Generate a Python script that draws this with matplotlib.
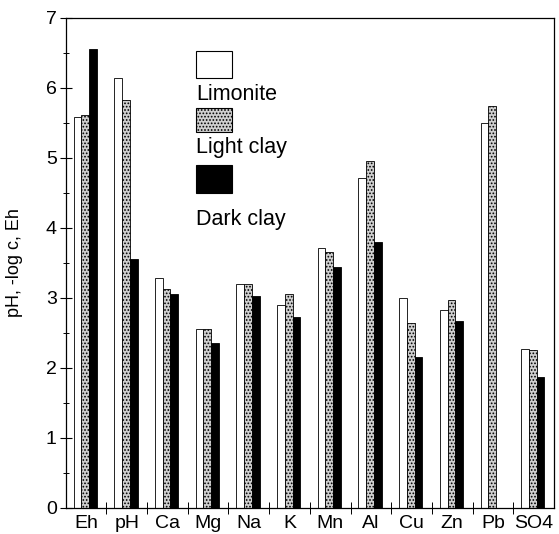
import matplotlib
matplotlib.use("Agg")
import matplotlib.pyplot as plt
from matplotlib.patches import Rectangle
import numpy as np

categories = ["Eh", "pH", "Ca", "Mg", "Na", "K", "Mn", "Al", "Cu", "Zn", "Pb", "SO4"]
limonite   = [5.58, 6.14, 3.28, 2.55, 3.20, 2.90, 3.71, 4.71, 3.00, 2.83, 5.49, 2.27]
light_clay = [5.61, 5.83, 3.13, 2.55, 3.20, 3.05, 3.65, 4.95, 2.64, 2.97, 5.74, 2.25]
dark_clay  = [6.55, 3.55, 3.05, 2.35, 3.03, 2.73, 3.44, 3.80, 2.15, 2.66, 0.00, 1.86]
series_names = ["Limonite", "Light clay", "Dark clay"]
y_ticks = [0, 1, 2, 3, 4, 5, 6, 7]

plt.rcParams["font.family"] = ["Liberation Sans", "DejaVu Sans"]
plt.rcParams["hatch.color"] = "#555555"
plt.rcParams["hatch.linewidth"] = 0.8

fig = plt.figure(figsize=(5.59, 5.34), dpi=100)
ax = fig.add_axes([0.1175, 0.0493, 0.8735, 0.9177])

n = len(categories)
x = np.arange(n)
w = 0.19
center = x + 0.48

styles = [
    dict(facecolor="white", edgecolor="black", hatch=None),
    dict(facecolor="#cfcfcf", edgecolor="black", hatch="....."),
    dict(facecolor="black", edgecolor="black", hatch=None),
]
for k, vals in enumerate([limonite, light_clay, dark_clay]):
    ax.bar(center + (k - 1) * w, vals, width=w, linewidth=0.6, **styles[k])

ax.set_xlim(0, n)
ax.set_ylim(0, 7)
ax.set_yticks(y_ticks)
ax.set_yticks(np.arange(0.5, 7, 1.0), minor=True)
ax.set_xticks(x + 0.5)
ax.set_xticklabels(categories)
ax.set_xticks(np.arange(1, n), minor=True)

ax.tick_params(axis="y", which="major", direction="inout", length=9, width=0.8,
               labelsize=14, pad=2)
ax.tick_params(axis="y", which="minor", direction="inout", length=4, width=0.7)
ax.tick_params(axis="x", which="major", length=0, labelsize=14, pad=5)
ax.tick_params(axis="x", which="minor", direction="inout", length=8, width=0.7)
for sp in ax.spines.values():
    sp.set_linewidth(0.9)

ax.set_ylabel("pH, -log c, Eh", fontsize=13)
ax.yaxis.set_label_coords(-0.087, 0.5)

# legend: swatch with its label underneath
box_bottom = [0.877, 0.767, 0.642]
box_height = [0.0547, 0.048, 0.0571]
text_base = [0.8317, 0.7236, 0.5767]
for k in range(3):
    ax.add_patch(Rectangle((0.2668, box_bottom[k]), 0.0731, box_height[k],
                           transform=ax.transAxes, linewidth=0.8, **styles[k]))
    ax.text(0.2668, text_base[k], series_names[k], transform=ax.transAxes,
            fontsize=15.5, ha="left", va="baseline")

fig.savefig("out.png", dpi=100)
